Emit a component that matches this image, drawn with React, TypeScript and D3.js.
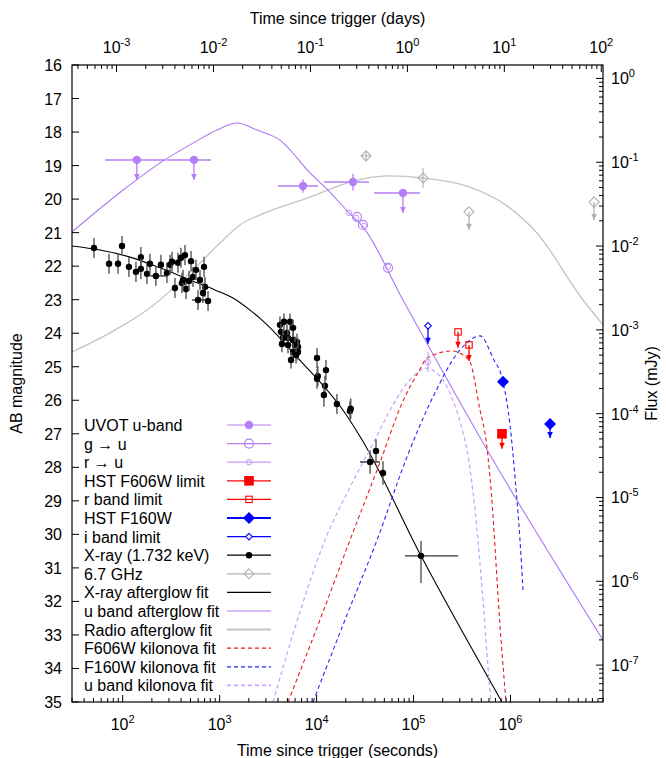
import * as d3 from 'd3';

// AB zero point for flux in mJy
const ZP = 16.4;

// UVOT u-band detections / limits
const uvotU = [
  { t: 140, t0: 66, t1: 280, m: 18.83, e: 0, lim: true },
  { t: 543, t0: 286, t1: 815, m: 18.83, e: 0, lim: true },
  { t: 7240, t0: 4000, t1: 10330, m: 19.61, e: 0.2, lim: false },
  { t: 23770, t0: 11900, t1: 34750, m: 19.49, e: 0.25, lim: false },
  { t: 77800, t0: 39100, t1: 116700, m: 19.82, e: 0, lim: true },
];

// g -> u and r -> u  [t, mag, err]
const gToU = [
  [26100, 20.53, 0],
  [30100, 20.77, 0],
  [54600, 22.05, 0],
];
const rToU = [
  [21600, 20.41, 0],
  [25500, 20.56, 0],
  [30800, 20.8, 0],
  [54600, 22.02, 0],
  [141000, 24.86, 0.3],
];

// HST and ground limits  [t, mag, limit]
const hstF606W = [[816600, 27.0, 1]];
const rBandLimit = [
  [287700, 23.96, 1],
  [373500, 24.35, 1],
];
const hstF160W = [
  [837500, 25.45, 0],
  [2.56e6, 26.71, 1],
];
const iBandLimit = [[141000, 23.78, 1]];

// X-ray (1.732 keV) converted to AB mag
const xray = [
  { t: 50.6, m: 21.46, e: 0.3 }, { t: 98.4, m: 21.4, e: 0.3 }, { t: 72.3, m: 21.93, e: 0.3 },
  { t: 89.5, m: 21.93, e: 0.3 }, { t: 116, m: 22.02, e: 0.3 }, { t: 137, m: 22.17, e: 0.3 },
  { t: 154, m: 21.73, e: 0.3 }, { t: 154, m: 22.08, e: 0.3 }, { t: 178, m: 22.23, e: 0.3 },
  { t: 191, m: 21.93, e: 0.3 }, { t: 220, m: 22.29, e: 0.3, t0: 190, t1: 290 }, { t: 248, m: 21.96, e: 0.3 },
  { t: 286, m: 22.2, e: 0.3 }, { t: 308, m: 21.96, e: 0.3 }, { t: 323, m: 21.87, e: 0.3 },
  { t: 372, m: 21.9, e: 0.3 }, { t: 399, m: 21.75, e: 0.3 }, { t: 439, m: 21.67, e: 0.3 },
  { t: 346, m: 22.65, e: 0.3 }, { t: 409, m: 22.5, e: 0.3 }, { t: 450, m: 22.68, e: 0.3 },
  { t: 419, m: 22.41, e: 0.3 }, { t: 483, m: 22.44, e: 0.3 }, { t: 507, m: 21.85, e: 0.3 },
  { t: 531, m: 22.32, e: 0.3 }, { t: 570, m: 22.11, e: 0.3 }, { t: 690, m: 22.02, e: 0.3 },
  { t: 627, m: 22.41, e: 0.3 }, { t: 706, m: 22.62, e: 0.3 }, { t: 673, m: 22.8, e: 0.3 },
  { t: 598, m: 23.01, e: 0.3, t0: 519, t1: 706 }, { t: 759, m: 23.04, e: 0.3 },
  { t: 4190, m: 23.75, e: 0.25 }, { t: 4610, m: 23.66, e: 0.25 }, { t: 5320, m: 23.66, e: 0.25 },
  { t: 5720, m: 23.84, e: 0.25 }, { t: 4290, m: 23.96, e: 0.25 }, { t: 4950, m: 23.99, e: 0.25 },
  { t: 4500, m: 24.14, e: 0.25 }, { t: 5070, m: 24.14, e: 0.25 }, { t: 5720, m: 24.2, e: 0.25 },
  { t: 6280, m: 24.26, e: 0.25 }, { t: 4390, m: 24.32, e: 0.25 }, { t: 5070, m: 24.35, e: 0.25 },
  { t: 5990, m: 24.35, e: 0.25 }, { t: 6430, m: 24.41, e: 0.25 }, { t: 5720, m: 24.56, e: 0.25 },
  { t: 6430, m: 24.56, e: 0.25 }, { t: 6140, m: 24.65, e: 0.25 }, { t: 5450, m: 24.8, e: 0.25 },
  { t: 10100, m: 24.74, e: 0.3 }, { t: 12500, m: 25.1, e: 0.3 }, { t: 10300, m: 25.28, e: 0.3 },
  { t: 10100, m: 25.36, e: 0.3 }, { t: 12200, m: 25.57, e: 0.3 }, { t: 11900, m: 25.84, e: 0.35 },
  { t: 16200, m: 26.11, e: 0.3 }, { t: 22100, m: 26.32, e: 0.3 }, { t: 22500, m: 26.25, e: 0.3 },
  { t: 35600, m: 27.84, e: 0.35, t0: 28000, t1: 45100 }, { t: 41000, m: 27.51, e: 0.35 },
  { t: 48400, m: 28.17, e: 0.35 },
  { t: 119400, m: 30.64, eUp: 0.44, eDn: 0.81, t0: 81700, t1: 288000 },
];

// 6.7 GHz radio
const radio67 = [
  { t: 32400, t0: 28500, t1: 36800, m: 18.71, e: 0.15, lim: false },
  { t: 125300, m: 19.37, e: 0.3, lim: false },
  { t: 373000, m: 20.38, e: 0, lim: true },
  { t: 7.28e6, m: 20.09, e: 0, lim: true },
];

// model curves  [t (s), mag]
const xrayFit = [
  [30, 21.4], [58.3, 21.52], [119, 21.73], [243, 22.05], [494, 22.41], [895, 22.71],
  [1373, 22.95], [2056, 23.31], [2937, 23.69], [6430, 24.74], [19630, 26.38],
  [29400, 27.18], [119400, 30.64], [816600, 35.0],
];
const uAfterglowFit = [
  [30, 20.98], [111, 19.64], [243, 18.92], [531, 18.33], [940, 17.94], [1510, 17.73],
  [2430, 17.94], [4190, 18.24], [8550, 19.22], [13100, 19.73], [21600, 20.41],
  [30100, 20.83], [77800, 23.01], [660100, 27.78], [9e6, 33.15],
];
const radioFit = [
  [30, 24.56], [74, 23.99], [178, 23.31], [627, 21.91], [1007, 21.31], [1622, 20.77],
  [2606, 20.47], [8550, 19.94], [22110, 19.49], [54600, 19.31], [125300, 19.37],
  [382000, 19.64], [837500, 20.12], [1.876e6, 21.01], [5.6e6, 23.01], [9e6, 23.75],
];
const f606wKnFit = [
  [5070, 35.0], [10840, 32.55], [22110, 30.17], [47280, 27.69], [72500, 26.23],
  [116600, 25.07], [137700, 24.74], [249300, 24.53], [373400, 24.8], [484800, 26.29],
  [559000, 27.18], [614700, 28.29], [798500, 33.15], [898800, 35.0],
];
const f160wKnFit = [
  [9180, 35.0], [19630, 32.55], [42000, 30.17], [85600, 27.69], [158700, 25.9],
  [301500, 24.5], [484800, 24.08], [660100, 24.74], [837500, 25.45], [988500, 26.74],
  [1.113e6, 28.29], [1.253e6, 30.17], [1.346e6, 31.66],
];
const uKnFit = [
  [3550, 35.0], [6742, 32.31], [12210, 30.17], [22110, 28.59], [40040, 27.18],
  [61400, 26.14], [91940, 25.39], [134400, 25.04], [187400, 25.28], [249300, 25.93],
  [308700, 26.74], [355900, 27.48], [430400, 29.27], [520700, 31.96], [600300, 34.34],
  [629500, 35.0],
];

const legendLabels = [
  'UVOT u-band', 'g \u2192 u', 'r \u2192 u', 'HST F606W limit', 'r band limit', 'HST F160W',
  'i band limit', 'X-ray (1.732 keV)', '6.7 GHz', 'X-ray afterglow fit', 'u band afterglow fit',
  'Radio afterglow fit', 'F606W kilonova fit', 'F160W kilonova fit', 'u band kilonova fit',
];

const PURPLE = '#b47ef6';
const PURPLE_FIT = '#ad78f2';
const LAVENDER = '#c39df6';
const LAVENDER_KN = '#c9a6fa';
const RED = '#ff0000';
const BLUE = '#0000ff';
const GREY = '#c4c4c4';
const GREY_PT = '#b0b0b0';
const FONT = '"Liberation Sans", Arial, Helvetica, sans-serif';

const L = 72, R = 603, T = 65, B = 702;
const x = d3.scaleLog().domain([30, 9e6]).range([L, R]);
const xDays = d3.scaleLog().domain([30 / 86400, 9e6 / 86400]).range([L, R]);
const y = d3.scaleLinear().domain([16, 35]).range([T, B]);
const flux = (m: number) => 10 ** ((ZP - m) / 2.5);
const yFlux = d3.scaleLog().domain([flux(16), flux(35)]).range([T, B]);

const logTicks = (lo: number, hi: number) => {
  const out: { v: number; major: boolean; e: number }[] = [];
  for (let e = Math.floor(Math.log10(lo)); e <= Math.ceil(Math.log10(hi)); e++) {
    for (let k = 1; k <= 9; k++) {
      const v = k * 10 ** e;
      if (v >= lo * 0.999 && v <= hi * 1.001) out.push({ v, major: k === 1, e });
    }
  }
  return out;
};

const line = d3
  .line<number[]>()
  .x((d) => x(d[0]))
  .y((d) => y(d[1]))
  .curve(d3.curveMonotoneX);

const Pow = ({ e }: { e: number }) => (
  <>
    <tspan>10</tspan>
    <tspan dy={-7} fontSize={11}>{e}</tspan>
  </>
);

const Arrow = ({ cx, cy, len, color }: { cx: number; cy: number; len: number; color: string }) => (
  <g>
    <line x1={cx} y1={cy} x2={cx} y2={cy + len} stroke={color} strokeWidth={1.3} />
    <path d={`M${cx - 2.8},${cy + len - 6}L${cx + 2.8},${cy + len - 6}L${cx},${cy + len}Z`} fill={color} />
  </g>
);

type MK = 'fcircle' | 'ocircle' | 'scircle' | 'fsquare' | 'osquare' | 'fdiamond' | 'odiamond' | 'dot' | 'gdiamond';

const Marker = ({ kind, cx, cy, color }: { kind: MK; cx: number; cy: number; color: string }) => {
  switch (kind) {
    case 'fcircle':
      return <circle cx={cx} cy={cy} r={4.2} fill={color} />;
    case 'ocircle':
      return <circle cx={cx} cy={cy} r={4.5} fill="none" stroke={color} strokeWidth={1.1} />;
    case 'scircle':
      return <circle cx={cx} cy={cy} r={2.7} fill="none" stroke={color} strokeWidth={1} />;
    case 'fsquare':
      return <rect x={cx - 4.8} y={cy - 4.8} width={9.6} height={9.6} fill={color} />;
    case 'osquare':
      return <rect x={cx - 3.2} y={cy - 3.2} width={6.4} height={6.4} fill="none" stroke={color} strokeWidth={1.1} />;
    case 'fdiamond':
      return <path d={`M${cx},${cy - 6}L${cx + 6},${cy}L${cx},${cy + 6}L${cx - 6},${cy}Z`} fill={color} />;
    case 'odiamond':
      return <path d={`M${cx},${cy - 3.3}L${cx + 3.3},${cy}L${cx},${cy + 3.3}L${cx - 3.3},${cy}Z`} fill="white" stroke={color} strokeWidth={1.1} />;
    case 'gdiamond':
      return <path d={`M${cx},${cy - 5}L${cx + 5},${cy}L${cx},${cy + 5}L${cx - 5},${cy}Z`} fill="none" stroke={color} strokeWidth={1.1} />;
    case 'dot':
      return <circle cx={cx} cy={cy} r={3.2} fill={color} />;
  }
};

const legendStyle: { color: string; width: number; dash?: string; marker?: MK }[] = [
  { color: PURPLE, width: 1.2, marker: 'fcircle' },
  { color: PURPLE, width: 1.2, marker: 'ocircle' },
  { color: LAVENDER, width: 1.2, marker: 'scircle' },
  { color: RED, width: 1.2, marker: 'fsquare' },
  { color: RED, width: 1.2, marker: 'osquare' },
  { color: BLUE, width: 2, marker: 'fdiamond' },
  { color: BLUE, width: 1.2, marker: 'odiamond' },
  { color: '#000', width: 1.2, marker: 'dot' },
  { color: GREY_PT, width: 1.2, marker: 'gdiamond' },
  { color: '#000', width: 1.2 },
  { color: PURPLE_FIT, width: 1.2 },
  { color: GREY, width: 2 },
  { color: '#e61e1e', width: 1.2, dash: '4,3' },
  { color: '#2525ff', width: 1.2, dash: '4,3' },
  { color: LAVENDER_KN, width: 1.6, dash: '4,3' },
];

const App = () => {
  const secTicks = logTicks(30, 9e6);
  const dayTicks = logTicks(30 / 86400, 9e6 / 86400);
  const fluxTicks = logTicks(flux(35), flux(16));
  const magTicks = d3.range(16, 36);

  return (
    <div style={{ position: 'absolute', left: 0, top: 0 }}>
      <svg width={666} height={758} fontFamily={FONT} fontSize={16}>
        <defs>
          <clipPath id="plot">
            <rect x={L} y={T} width={R - L} height={B - T} />
          </clipPath>
        </defs>
        <rect width={666} height={758} fill="white" />

        {/* model curves */}
        <g clipPath="url(#plot)" fill="none">
          <path d={line(radioFit) as string} stroke={GREY} strokeWidth={1.3} />
          <path d={line(uAfterglowFit) as string} stroke={PURPLE_FIT} strokeWidth={1.1} />
          <path d={line(xrayFit) as string} stroke="#000" strokeWidth={1.1} />
          <path d={line(uKnFit) as string} stroke={LAVENDER_KN} strokeWidth={1.3} strokeDasharray="4,3" />
          <path d={line(f606wKnFit) as string} stroke="#e61e1e" strokeWidth={1.1} strokeDasharray="4,3" />
          <path d={line(f160wKnFit) as string} stroke="#2525ff" strokeWidth={1.1} strokeDasharray="4,3" />
        </g>

        {/* 6.7 GHz */}
        {radio67.map((d, i) => {
          const cx = x(d.t), cy = y(d.m);
          return (
            <g key={`r${i}`}>
              {d.t0 && <line x1={x(d.t0)} x2={x(d.t1)} y1={cy} y2={cy} stroke={GREY_PT} strokeWidth={1.1} />}
              {d.e > 0 && <line x1={cx} x2={cx} y1={y(d.m - d.e)} y2={y(d.m + d.e)} stroke={GREY_PT} strokeWidth={1.1} />}
              {d.lim && <Arrow cx={cx} cy={cy} len={18} color={GREY_PT} />}
              <Marker kind="gdiamond" cx={cx} cy={cy} color={GREY_PT} />
            </g>
          );
        })}

        {/* X-ray */}
        {xray.map((d, i) => {
          const cx = x(d.t), cy = y(d.m);
          const up = d.eUp ?? d.e ?? 0;
          const dn = d.eDn ?? d.e ?? 0;
          return (
            <g key={`x${i}`}>
              {d.t0 && <line x1={x(d.t0)} x2={x(d.t1 as number)} y1={cy} y2={cy} stroke="#333" strokeWidth={1.4} />}
              <line x1={cx} x2={cx} y1={y(d.m - up)} y2={y(d.m + dn)} stroke="#555" strokeWidth={1.4} />
              <Marker kind="dot" cx={cx} cy={cy} color="#000" />
            </g>
          );
        })}

        {/* UVOT u-band */}
        {uvotU.map((d, i) => {
          const cx = x(d.t), cy = y(d.m);
          return (
            <g key={`u${i}`}>
              <line x1={x(d.t0)} x2={x(d.t1)} y1={cy} y2={cy} stroke={PURPLE} strokeWidth={1.5} />
              {d.e > 0 && <line x1={cx} x2={cx} y1={y(d.m - d.e)} y2={y(d.m + d.e)} stroke={PURPLE} strokeWidth={1.3} />}
              {d.lim && <Arrow cx={cx} cy={cy} len={20} color={PURPLE} />}
              <Marker kind="fcircle" cx={cx} cy={cy} color={PURPLE} />
            </g>
          );
        })}

        {/* g -> u, r -> u */}
        {gToU.map((d, i) => (
          <Marker key={`g${i}`} kind="ocircle" cx={x(d[0])} cy={y(d[1])} color={PURPLE} />
        ))}
        {rToU.map((d, i) => (
          <g key={`rr${i}`}>
            {d[2] > 0 && <line x1={x(d[0])} x2={x(d[0])} y1={y(d[1] - d[2])} y2={y(d[1] + d[2])} stroke={LAVENDER} strokeWidth={1.1} />}
            <Marker kind="scircle" cx={x(d[0])} cy={y(d[1])} color={LAVENDER} />
          </g>
        ))}

        {/* HST / ground limits */}
        {iBandLimit.map((d, i) => (
          <g key={`i${i}`}>
            <Arrow cx={x(d[0])} cy={y(d[1])} len={18} color={BLUE} />
            <Marker kind="odiamond" cx={x(d[0])} cy={y(d[1])} color={BLUE} />
          </g>
        ))}
        {rBandLimit.map((d, i) => (
          <g key={`rb${i}`}>
            <Arrow cx={x(d[0])} cy={y(d[1])} len={16} color={RED} />
            <Marker kind="osquare" cx={x(d[0])} cy={y(d[1])} color={RED} />
          </g>
        ))}
        {hstF606W.map((d, i) => (
          <g key={`h6${i}`}>
            <Arrow cx={x(d[0])} cy={y(d[1])} len={15} color={RED} />
            <Marker kind="fsquare" cx={x(d[0])} cy={y(d[1])} color={RED} />
          </g>
        ))}
        {hstF160W.map((d, i) => (
          <g key={`h1${i}`}>
            {d[2] === 1 && <Arrow cx={x(d[0])} cy={y(d[1])} len={14} color={BLUE} />}
            <Marker kind="fdiamond" cx={x(d[0])} cy={y(d[1])} color={BLUE} />
          </g>
        ))}

        {/* legend */}
        {legendLabels.map((label, i) => {
          const cy = 425 + i * 18.6;
          const s = legendStyle[i];
          return (
            <g key={label}>
              <text x={84} y={cy + 6}>{label}</text>
              <line x1={227} x2={271} y1={cy} y2={cy} stroke={s.color} strokeWidth={s.width} strokeDasharray={s.dash} />
              {s.marker && <Marker kind={s.marker} cx={249} cy={cy} color={s.color} />}
            </g>
          );
        })}

        {/* frame */}
        <rect x={L} y={T} width={R - L} height={B - T} fill="none" stroke="#000" strokeWidth={1.2} />

        {/* left axis (mag) */}
        {magTicks.map((m) => (
          <g key={`m${m}`}>
            <line x1={L} x2={L + 7} y1={y(m)} y2={y(m)} stroke="#000" />
            <text x={62} y={y(m) + 6} textAnchor="end">{m}</text>
          </g>
        ))}

        {/* bottom axis (seconds) */}
        {secTicks.map((d) => (
          <g key={`s${d.v}`}>
            <line x1={x(d.v)} x2={x(d.v)} y1={B} y2={B - (d.major ? 7 : 4)} stroke="#000" />
            {d.major && (
              <text x={x(d.v)} y={730} textAnchor="middle">
                <Pow e={d.e} />
              </text>
            )}
          </g>
        ))}

        {/* top axis (days) */}
        {dayTicks.map((d) => (
          <g key={`d${d.v}`}>
            <line x1={xDays(d.v)} x2={xDays(d.v)} y1={T} y2={T + (d.major ? 7 : 4)} stroke="#000" />
            {d.major && (
              <text x={xDays(d.v)} y={53} textAnchor="middle">
                <Pow e={d.e} />
              </text>
            )}
          </g>
        ))}

        {/* right axis (flux) */}
        {fluxTicks.map((d) => (
          <g key={`f${d.v}`}>
            <line x1={R} x2={R - (d.major ? 7 : 4)} y1={yFlux(d.v)} y2={yFlux(d.v)} stroke="#000" />
            {d.major && (
              <text x={611} y={yFlux(d.v) + 6}>
                <Pow e={d.e} />
              </text>
            )}
          </g>
        ))}

        {/* axis titles */}
        <text x={(L + R) / 2} y={24} textAnchor="middle">Time since trigger (days)</text>
        <text x={(L + R) / 2} y={756} textAnchor="middle">Time since trigger (seconds)</text>
        <text transform={`translate(22,${(T + B) / 2}) rotate(-90)`} textAnchor="middle">AB magnitude</text>
        <text transform={`translate(657,${(T + B) / 2}) rotate(-90)`} textAnchor="middle">Flux (mJy)</text>
      </svg>
    </div>
  );
};

export default App;
